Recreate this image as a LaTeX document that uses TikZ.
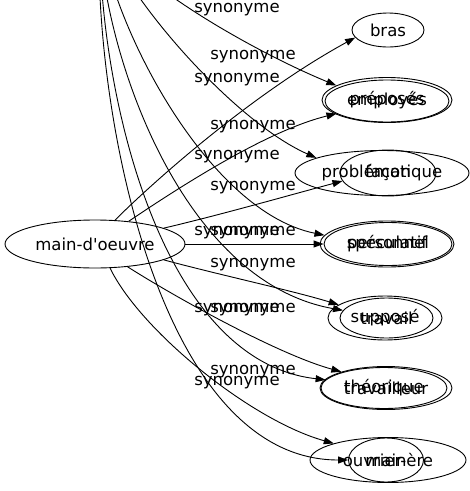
\documentclass[tikz,border=0pt]{standalone}
\usepackage{fontspec}
\newfontfamily\gvfamily{DejaVu Sans}
\usetikzlibrary{shapes.geometric,arrows.meta}
\newcommand\gvfont{\gvfamily\fontsize{16.5}{19}\selectfont}
\begin{document}
\begin{tikzpicture}[x=1pt,y=-1pt,
  nd/.style={draw, ellipse, inner sep=0pt, line width=0.9pt, font=\gvfont},
  lbl/.style={inner sep=0pt, font=\gvfont},
  ed/.style={draw, line width=0.9pt, -{Triangle[length=10pt,width=7pt]}}]
\useasboundingbox (0,0) rectangle (470,491);
\clip (0,0) rectangle (470,491);
\coordinate (S) at (100,-80);
% nodes
\node[nd,minimum width=180pt,minimum height=48pt] (M) at (95,244) {main-d'oeuvre};
\node[nd,minimum width=72pt,minimum height=34pt] (bras) at (388,30) {bras};
\node[nd,minimum width=130pt,minimum height=45pt] (prep) at (387,100) {préposés};
\node[nd,minimum width=124pt,minimum height=42pt] (empl) at (387,101) {employés};
\node[nd,minimum width=174pt,minimum height=45pt] (prob) at (382,173) {problématique};
\node[nd,minimum width=96pt,minimum height=46pt] (facon) at (388,173) {façon};
\node[nd,minimum width=134pt,minimum height=46pt] (spec) at (387,244) {spéculatif};
\node[nd,minimum width=128pt,minimum height=43pt] (pers) at (388,244) {personnel};
\node[nd,minimum width=114pt,minimum height=44pt] (supp) at (385,318) {supposé};
\node[nd,minimum width=93pt,minimum height=40pt] (trav) at (386.5,318) {travail};
\node[nd,minimum width=132pt,minimum height=43pt] (travr) at (386,388) {travailleur};
\node[nd,minimum width=126pt,minimum height=41pt] (theo) at (384,388) {théorique};
\node[nd,minimum width=156pt,minimum height=45pt] (ouv) at (388,460) {ouvrier-ère};
\node[nd,minimum width=75pt,minimum height=44pt] (main) at (386,460) {main};
% edges from main-d'oeuvre
\draw[ed] (M.50) .. controls (150,185) and (250,95) .. (bras.193);
\draw[ed] (M.34) .. controls (190,180) and (270,130) .. (empl.194);
\draw[ed] (M.13) .. controls (220,215) and (290,195) .. (facon.190);
\draw[ed] (M.east) -- (pers.west);
\draw[ed] (M.-13) .. controls (220,275) and (290,290) .. (supp.164);
\draw[ed] (M.-35) .. controls (180,300) and (280,355) .. (travr.160);
\draw[ed] (M.-58) .. controls (140,330) and (250,420) .. (ouv.163);
% edges from the node above
\draw[ed] (S) .. controls (110,-30) and (250,50) .. (prep.164);
\draw[ed] (S) .. controls (110,-20) and (230,120) .. (prob.167);
\draw[ed] (S) .. controls (100,0) and (200,210) .. (spec.172);
\draw[ed] (S) .. controls (95,20) and (170,280) .. (trav.170);
\draw[ed] (S) .. controls (95,60) and (150,360) .. (theo.172);
\draw[ed] (S) .. controls (90,80) and (150,460) .. (main.180);
% labels
\node[lbl] (l1) at (237,10) {synonyme};
\node[lbl] (l2) at (253,57) {synonyme};
\node[lbl] (l3) at (237,80) {synonyme};
\node[lbl] (l4) at (253,127) {synonyme};
\node[lbl] (l5) at (237,157) {synonyme};
\node[lbl] (l6) at (253,188) {synonyme};
\node[lbl] (l7) at (237,233) {synonyme};
\node[lbl] (l8) at (253,233) {synonyme};
\node[lbl] (l9) at (253,265) {synonyme};
\node[lbl] (l10) at (237,310) {synonyme};
\node[lbl] (l11) at (253,310) {synonyme};
\node[lbl] (l12) at (253,372) {synonyme};
\node[lbl] (l13) at (237,383) {synonyme};
\end{tikzpicture}
\end{document}
